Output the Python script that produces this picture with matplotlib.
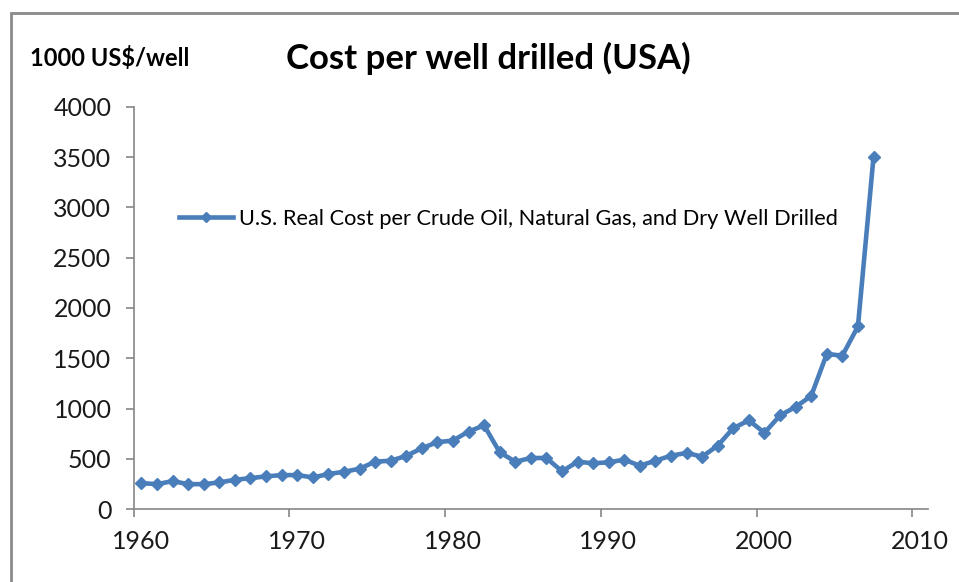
import numpy as np
import matplotlib
matplotlib.use("Agg")
import matplotlib.pyplot as plt
import matplotlib.transforms as mtransforms
from matplotlib.patches import Rectangle

# Real cost per well drilled, thousand US$ per well
years = list(range(1960, 2008))
cost = [260, 250, 280, 250, 250, 267, 293, 310, 327, 340,
        340, 317, 350, 373, 403, 473, 483, 530, 607, 667,
        683, 773, 833, 567, 473, 510, 510, 377, 473, 457,
        467, 493, 433, 483, 533, 560, 523, 633, 807, 883,
        760, 933, 1017, 1127, 1543, 1527, 1817, 3500]
x_ticks = [1960, 1970, 1980, 1990, 2000, 2010]
y_ticks = [0, 500, 1000, 1500, 2000, 2500, 3000, 3500, 4000]
series_label = "U.S. Real Cost per Crude Oil, Natural Gas, and Dry Well Drilled"

plt.rcParams["font.family"] = ["Lato", "DejaVu Sans"]
blue = "#4a7ebb"
axis_grey = "#868686"

fig = plt.figure(figsize=(9.59, 5.82), dpi=100)
ax = fig.add_axes([0.1394, 0.1249, 0.8283, 0.6918])

# yearly values sit mid-year on the date axis
ax.plot(np.array(years) + 0.5, cost, color=blue, linewidth=3.3,
        marker="D", markersize=6.5, label=series_label)

ax.set_xlim(1960, 2011)
ax.set_ylim(0, 4000)
ax.set_xticks(x_ticks)
ax.set_yticks(y_ticks)
ax.tick_params(axis="both", colors=axis_grey, labelcolor="#1a1a1a",
               labelsize=18, length=6, width=1.2)
ax.tick_params(axis="y", pad=10)
ax.tick_params(axis="x", pad=9)
for side in ["top", "right"]:
    ax.spines[side].set_visible(False)
for side in ["left", "bottom"]:
    ax.spines[side].set_color(axis_grey)
    ax.spines[side].set_linewidth(1.2)

# year labels sit a little right of their ticks
shift = mtransforms.ScaledTranslation(0.075, 0, fig.dpi_scale_trans)
for lbl in ax.get_xticklabels():
    lbl.set_transform(lbl.get_transform() + shift)

leg = ax.legend(loc="upper left", bbox_to_anchor=(0.057, 0.746), frameon=False,
                fontsize=15.7, handlelength=2.5, handletextpad=0.25,
                borderaxespad=0, borderpad=0)
leg.get_lines()[0].set_markersize(5)

fig.text(0.509, 0.9003, "Cost per well drilled (USA)", ha="center", va="center",
         fontsize=25, fontweight="bold")
fig.text(0.0313, 0.9009, "1000 US$/well", ha="left", va="center",
         fontsize=17, fontweight="bold")

# chart area border
fig.patches.append(Rectangle((11 / 959, -0.05), 1.2, 1.05 - 13 / 582,
                             transform=fig.transFigure, fill=False,
                             edgecolor="#8a8a8a", linewidth=2))

fig.savefig("out.png", dpi=100)
